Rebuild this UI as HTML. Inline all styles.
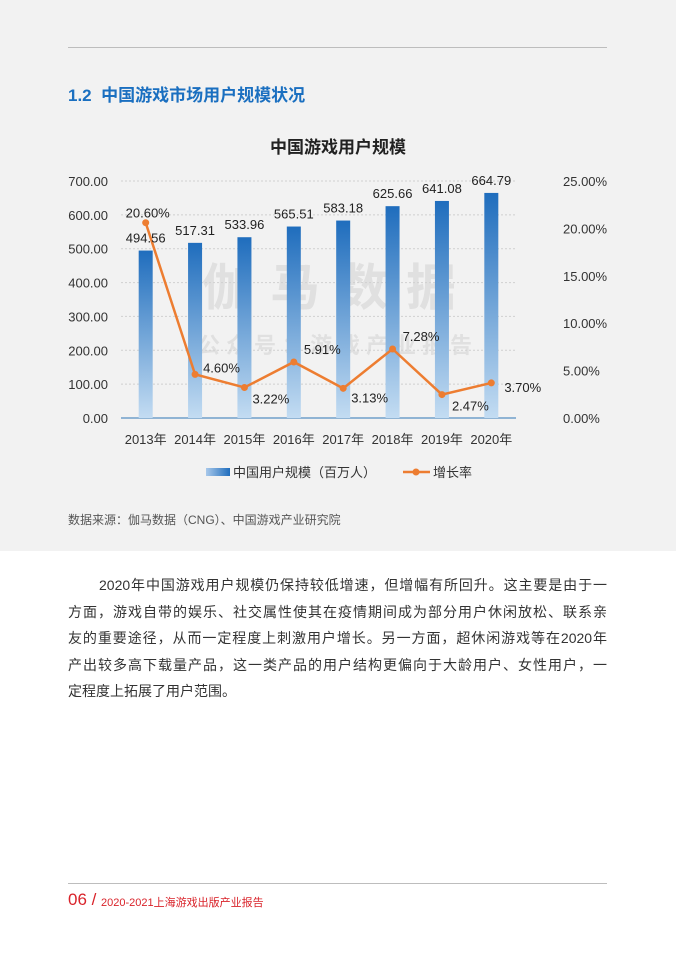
<!DOCTYPE html>
<html><head><meta charset="utf-8"><style>
body{margin:0;width:676px;height:960px;position:relative;background:#fff;font-family:"Liberation Sans","Noto Sans CJK SC",sans-serif;overflow:hidden}
.bg{position:absolute;left:0;top:0;width:676px;height:551px;background:#f2f2f2}
.abs{position:absolute;white-space:nowrap}
.ln{height:26.5px;text-align:justify;text-align-last:justify;white-space:nowrap}
.ln.last{text-align-last:left}
</style></head><body>
<div class="bg"></div>
<div class="abs" style="left:68px;top:47px;width:539px;height:1px;background:#bdbdbd"></div>
<div class="abs" style="left:68px;top:81px;font-size:17px;color:#1a6fc0;font-weight:bold">1.2&nbsp;&nbsp;中国游戏市场用户规模状况</div>
<svg class="abs" style="left:0;top:0" width="676" height="551" id="chart">
<defs><linearGradient id="g" x1="0" y1="0" x2="0" y2="1"><stop offset="0" stop-color="#1f6dbd"/><stop offset="1" stop-color="#c3dcf2"/></linearGradient>
<linearGradient id="gl" x1="0" y1="0" x2="1" y2="0"><stop offset="0" stop-color="#a8c8ea"/><stop offset="1" stop-color="#1f6dbd"/></linearGradient></defs>
<text x="338" y="153" text-anchor="middle" font-size="17" font-weight="bold" fill="#222">中国游戏用户规模</text>
<text x="338" y="305" text-anchor="middle" font-size="50" font-weight="bold" fill="#000" opacity="0.07" letter-spacing="18">伽马数据</text>
<text x="338" y="353" text-anchor="middle" font-size="22" font-weight="bold" fill="#000" opacity="0.07" letter-spacing="6">公众号：游戏产业报告</text>
<g id="grid"></g><g id="bars"></g><g id="line"></g><g id="labels"></g>
<g>
<rect x="206" y="468" width="24" height="8" fill="url(#gl)"/>
<text x="233" y="477" font-size="13" fill="#333">中国用户规模（百万人）</text>
<line x1="403" y1="472" x2="430" y2="472" stroke="#ed7d31" stroke-width="2.5"/>
<circle cx="416" cy="472" r="3.5" fill="#ed7d31"/>
<text x="433" y="477" font-size="13" fill="#333">增长率</text>
</g>
</svg>
<div class="abs" style="left:68px;top:511px;font-size:12px;color:#555">数据来源：伽马数据（CNG）、中国游戏产业研究院</div>
<div class="abs" style="left:68px;top:572px;width:539px;white-space:normal;font-size:14px;line-height:26.5px;color:#333">
<div class="ln" style="padding-left:31px">2020年中国游戏用户规模仍保持较低增速，但增幅有所回升。这主要是由于一</div>
<div class="ln">方面，游戏自带的娱乐、社交属性使其在疫情期间成为部分用户休闲放松、联系亲</div>
<div class="ln">友的重要途径，从而一定程度上刺激用户增长。另一方面，超休闲游戏等在2020年</div>
<div class="ln">产出较多高下载量产品，这一类产品的用户结构更偏向于大龄用户、女性用户，一</div>
<div class="ln last">定程度上拓展了用户范围。</div>
</div>
<div class="abs" style="left:68px;top:883px;width:539px;height:1px;background:#bdbdbd"></div>
<div class="abs" style="left:68px;top:890px;font-size:17px;color:#d9232a">06 /</div>
<div class="abs" style="left:101px;top:894px;font-size:11px;color:#d9232a">2020-2021上海游戏出版产业报告</div>
<script>
const categories=["2013年","2014年","2015年","2016年","2017年","2018年","2019年","2020年"];
const users=[494.56,517.31,533.96,565.51,583.18,625.66,641.08,664.79];
const growth=[20.60,4.60,3.22,5.91,3.13,7.28,2.47,3.70];
const leftTicks=[0,100,200,300,400,500,600,700];
const rightTicks=[0,5,10,15,20,25];
const NS="http://www.w3.org/2000/svg";
const X0=121,X1=516,Y0=418,Y1=181;
const step=(X1-X0)/categories.length;
const xc=i=>X0+step*(i+0.5);
const yl=v=>Y0-(v/700)*(Y0-Y1);
const yr=v=>Y0-(v/25)*(Y0-Y1);
function mk(tag,attrs,parent,txt){const e=document.createElementNS(NS,tag);for(const k in attrs)e.setAttribute(k,attrs[k]);if(txt!==undefined)e.textContent=txt;document.getElementById(parent).appendChild(e);return e;}
leftTicks.forEach(t=>{
 if(t>0){const g=mk('line',{x1:X0,x2:X1,y1:yl(t),y2:yl(t),stroke:'#d0d0d0','stroke-dasharray':'2,2'},'grid');
 
 }
 const e=mk('text',{x:108,y:yl(t)+5,'text-anchor':'end','font-size':13,fill:'#333'},'grid',t.toFixed(2));
 
 
});
rightTicks.forEach(t=>{
 const e=mk('text',{x:563,y:yr(t)+5,'font-size':13,fill:'#333'},'grid',t.toFixed(2)+'%');
 
 
});
const ax=mk('line',{x1:X0,x2:X1,y1:Y0,y2:Y0,stroke:'#2e75b6','stroke-width':1},'grid');


categories.forEach((c,i)=>{
 const e=mk('text',{x:xc(i),y:444,'text-anchor':'middle','font-size':13,fill:'#333'},'grid',c);
 
 
 const b=mk('rect',{x:xc(i)-7,y:yl(users[i]),width:14,height:Y0-yl(users[i]),fill:'url(#g)'},'bars');
 
 
 const l=mk('text',{x:xc(i),y:yl(users[i])-8,'text-anchor':'middle','font-size':13,fill:'#222'},'labels',users[i].toFixed(2));
 
 
});
const pts=growth.map((g,i)=>xc(i)+','+yr(g)).join(' ');
const pl=mk('polyline',{points:pts,fill:'none',stroke:'#ed7d31','stroke-width':2.5},'line');


growth.forEach((g,i)=>{
 const c=mk('circle',{cx:xc(i),cy:yr(g),r:3.5,fill:'#ed7d31'},'line');
 
 
 let dx=8,dy=-2,anchor='start';
 if(i===0){dx=2;dy=-5;anchor='middle';}
 else if(i%2===0&&i!==6){dx=8;dy=16;}
 if(i===6){dx=10;dy=16;}
 if(i===4){dx=8;dy=14;}
 if(i===3||i===5){dx=10;dy=-8;}
 if(i===7){dx=13;dy=9;}
 const t=mk('text',{x:xc(i)+dx,y:yr(g)+dy,'text-anchor':anchor,'font-size':13,fill:'#222'},'labels',g.toFixed(2)+'%');
 
 
});
</script>
</body></html>
